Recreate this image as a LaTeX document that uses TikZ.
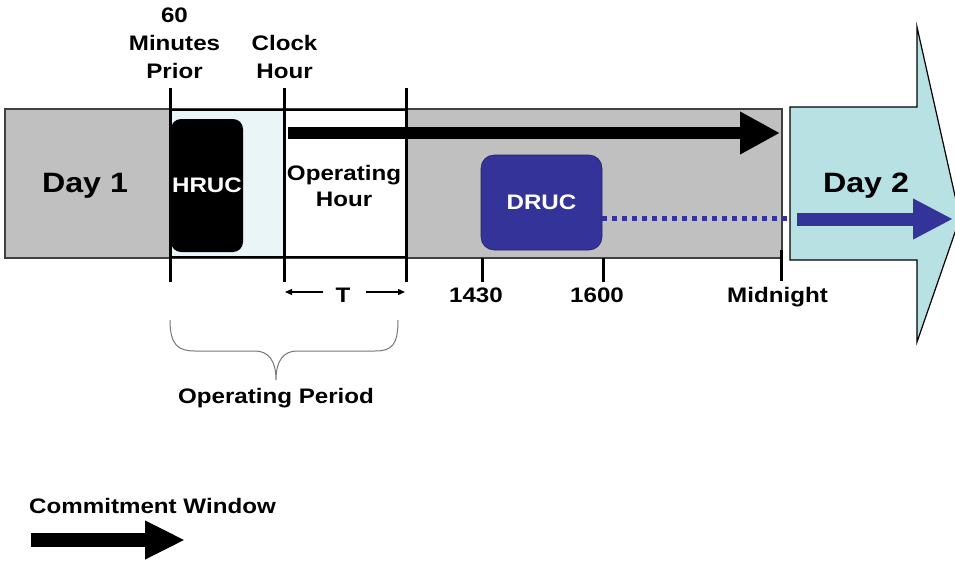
\documentclass[tikz,border=0pt]{standalone}
\usepackage{fontspec}
\setmainfont{Liberation Sans}[FakeStretch=1.15]
\usetikzlibrary{arrows.meta}
\definecolor{bargray}{HTML}{C0C0C0}
\definecolor{daytwo}{HTML}{B8E1E4}
\definecolor{paleblue}{HTML}{EAF5F7}
\definecolor{drucblue}{HTML}{333399}
\definecolor{bracegray}{HTML}{777777}
\definecolor{edgegray}{HTML}{404040}
\begin{document}
\begin{tikzpicture}[x=1pt,y=-1pt,
  lbl/.style={font=\bfseries\fontsize{21}{28}\selectfont, inner sep=0pt, anchor=base},
  daylbl/.style={font=\bfseries\fontsize{28}{32}\selectfont, inner sep=0pt, anchor=base},
  tickline/.style={line width=3pt},
  boxlbl/.style={font=\bfseries\fontsize{21}{24}\selectfont, text=white, inner sep=0pt, rounded corners=11pt},
  bigarrow/.style={line width=12pt, -{Triangle[length=40pt,width=40pt]}},
  tarrow/.style={line width=1.3pt, -{Triangle[length=7pt,width=6pt]}}]
\useasboundingbox (0,0) rectangle (955,562);
% Day 2 big arrow
\path[fill=daytwo, draw=black, line width=1.2pt] (790,107) -- (917,107) -- (917,27) -- (960,218) -- (917,342) -- (917,260) -- (790,260) -- cycle;
\node[daylbl] (day2) at (866,192) {Day 2};
% main bar
\node[draw=edgegray, line width=1.5pt, fill=bargray, minimum width=777pt, minimum height=149pt, inner sep=0pt] (bar) at (393.5,183.5) {};
\fill[paleblue] (171,110.5) rectangle (284,256.5);
\fill[white] (284,110.5) rectangle (406,256.5);
\draw[line width=2.5pt] (170,110) -- (406,110) (170,257) -- (406,257);
\node[daylbl] (day1) at (85,192) {Day 1};
% HRUC, DRUC
\node[boxlbl, fill=black, minimum width=72pt, minimum height=133pt, rounded corners=10pt] (hruc) at (207,185.5) {HRUC};
\node[boxlbl, fill=drucblue, draw=drucblue!70!black, line width=0.6pt, minimum width=121pt, minimum height=95pt, rounded corners=13pt] (druc) at (541.5,202.5) {DRUC};
% ticks
\draw[tickline] (170,88) -- (170,282);
\draw[tickline] (284,88) -- (284,282);
\draw[tickline] (406,88) -- (406,282);
\draw[tickline] (482,258) -- (482,282);
\draw[tickline] (603,258) -- (603,282);
\draw[tickline] (781,250) -- (781,281);
% commitment arrow in bar
\coordinate (cwstart) at (288,133);
\coordinate (cwend) at (780,133);
\draw[bigarrow] (cwstart) -- (cwend);
% dotted DRUC line and blue arrow
\coordinate (dotend) at (791,218);
\draw[drucblue, line width=5pt, dash pattern=on 5pt off 5pt] (druc.east |- dotend) -- (dotend);
\coordinate (bastart) at (797,219);
\coordinate (baend) at (953,219);
\draw[drucblue, line width=13pt, -{Triangle[length=40pt,width=38pt]}] (bastart) -- (baend);
% Operating hour
\node[lbl] (oph1) at (344,180) {Operating};
\node[lbl] (oph2) at (344,206) {Hour};
% top labels
\node[lbl] (m60a) at (174.5,22) {60};
\node[lbl] (m60b) at (174.5,50) {Minutes};
\node[lbl] (m60c) at (174.5,78) {Prior};
\node[lbl] (clk1) at (284.5,50) {Clock};
\node[lbl] (clk2) at (284.5,78) {Hour};
% bottom labels
\node[lbl] (t1430) at (476,302) {1430};
\node[lbl] (t1600) at (597,302) {1600};
\node[lbl] (tmid) at (777.5,302) {Midnight};
\node[lbl] (tT) at (343,302) {T};
\coordinate (tl1) at (323,292); \coordinate (tl2) at (285,292);
\coordinate (tr1) at (366,292); \coordinate (tr2) at (405,292);
\draw[tarrow] (tl1) -- (tl2);
\draw[tarrow] (tr1) -- (tr2);
% brace
\draw[bracegray, line width=1pt] (170,320) .. controls (170,345) and (178,351) .. (195,351) -- (255,351) .. controls (268,351) and (276,360) .. (276,380)
  .. controls (276,360) and (284,351) .. (297,351) -- (375,351) .. controls (392,351) and (398,345) .. (398,320);
\node[lbl] (opper) at (276,403) {Operating Period};
% legend
\node[lbl, anchor=base west] (legend) at (29,513) {Commitment Window};
\coordinate (lgstart) at (31,540);
\coordinate (lgend) at (185,540);
\draw[line width=14pt, -{Triangle[length=40pt,width=36pt]}] (lgstart) -- (lgend);
\end{tikzpicture}
\end{document}
